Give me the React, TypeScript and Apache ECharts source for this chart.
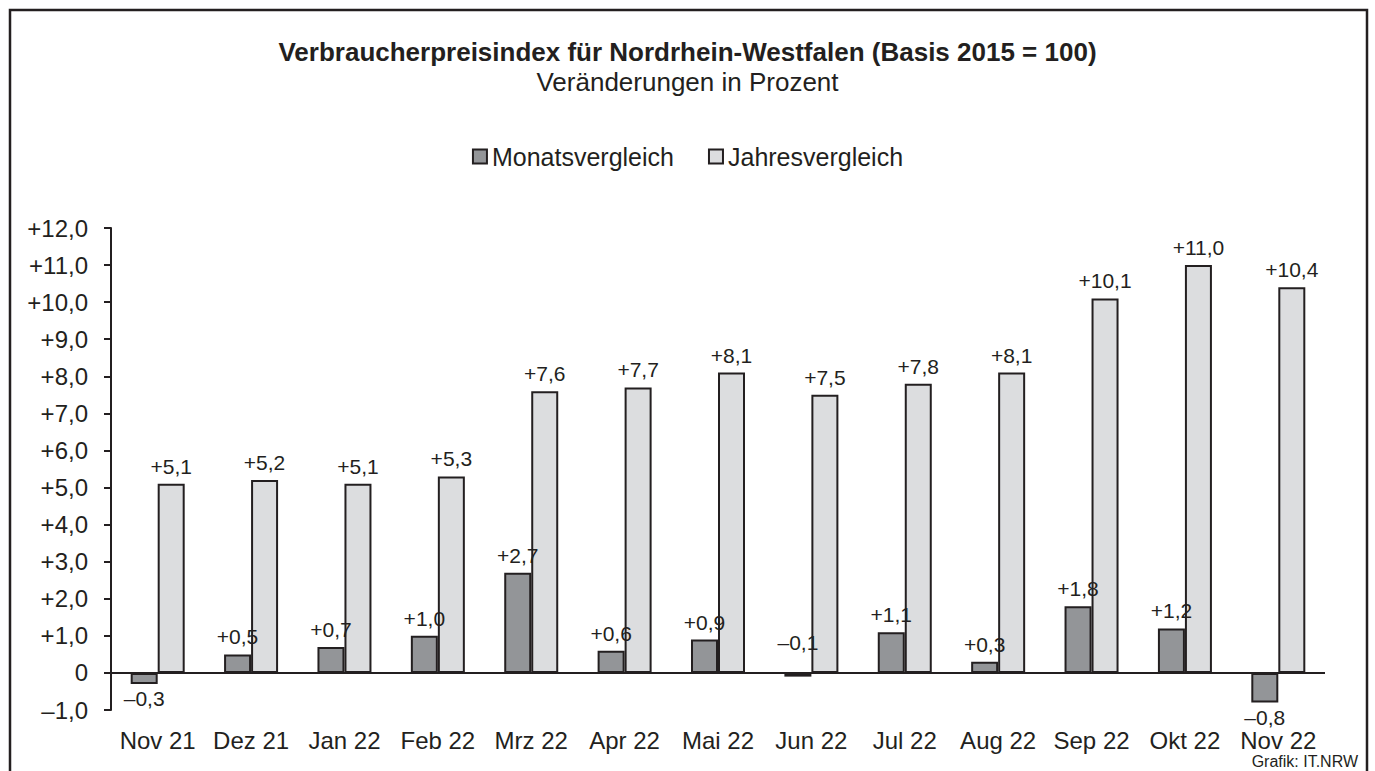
import React, { useEffect, useRef } from "react";
import * as echarts from "echarts";

const categories = ["Nov 21", "Dez 21", "Jan 22", "Feb 22", "Mrz 22", "Apr 22", "Mai 22", "Jun 22", "Jul 22", "Aug 22", "Sep 22", "Okt 22", "Nov 22"];
const monatsvergleich = [-0.3, 0.5, 0.7, 1.0, 2.7, 0.6, 0.9, -0.1, 1.1, 0.3, 1.8, 1.2, -0.8];
const jahresvergleich = [5.1, 5.2, 5.1, 5.3, 7.6, 7.7, 8.1, 7.5, 7.8, 8.1, 10.1, 11.0, 10.4];
const yMin = -1;
const yMax = 12;
const yInterval = 1;

const titleText = "Verbraucherpreisindex für Nordrhein-Westfalen (Basis 2015 = 100)";
const subtitleText = "Veränderungen in Prozent";
const sourceText = "Grafik: IT.NRW";

const FONT = "'Liberation Sans', Arial, Helvetica, sans-serif";

function fmt(v: number): string {
  if (v === 0) return "0";
  const s = Math.abs(v).toFixed(1).replace(".", ",");
  return (v > 0 ? "+" : "\u2013") + s;
}

export default function App() {
  const ref = useRef<HTMLDivElement>(null);
  useEffect(() => {
    if (!ref.current) return;
    const chart = echarts.init(ref.current, null, { renderer: "svg" });
    const monatsData = monatsvergleich.map((v) => {
      if (v < 0 && v > -0.2) {
        return { value: v, label: { position: "top", distance: 20 } };
      }
      if (v < 0) {
        return { value: v, label: { position: "bottom", distance: 4 } };
      }
      return { value: v };
    });
    chart.setOption({
      animation: false,
      backgroundColor: "#ffffff",
      title: [
        {
          text: titleText,
          left: "center",
          top: 34,
          textStyle: { fontFamily: FONT, fontSize: 26, fontWeight: "bold", color: "#231f20" },
        },
        {
          text: subtitleText,
          left: "center",
          top: 64,
          textStyle: { fontFamily: FONT, fontSize: 26, fontWeight: "normal", color: "#231f20" },
        },
      ],
      legend: {
        top: 139,
        left: "center",
        itemWidth: 14,
        itemHeight: 14,
        itemGap: 34,
        icon: "rect",
        textStyle: { fontFamily: FONT, fontSize: 25, color: "#231f20" },
        data: ["Monatsvergleich", "Jahresvergleich"],
      },
      grid: { left: 111, right: 50, top: 228, bottom: 61, containLabel: false },
      xAxis: {
        type: "category",
        data: categories,
        axisLine: { show: false, onZero: false },
        axisTick: { show: false },
        axisLabel: { fontFamily: FONT, fontSize: 24, color: "#231f20", margin: 18, interval: 0 },
      },
      yAxis: {
        type: "value",
        min: yMin,
        max: yMax,
        interval: yInterval,
        splitLine: { show: false },
        axisLine: { show: true, lineStyle: { color: "#231f20", width: 2 } },
        axisTick: { show: true, length: 7, lineStyle: { color: "#231f20", width: 2 } },
        axisLabel: {
          fontFamily: FONT,
          fontSize: 24,
          color: "#231f20",
          margin: 23,
          formatter: (v: number) => fmt(v),
        },
      },
      series: [
        {
          name: "Monatsvergleich",
          type: "bar",
          data: monatsData,
          barWidth: 27,
          barGap: "0%",
          itemStyle: { color: "#939598", borderColor: "#231f20", borderWidth: 2 },
          label: {
            show: true,
            position: "top",
            distance: 7,
            fontFamily: FONT,
            fontSize: 21,
            color: "#231f20",
            formatter: (p: any) => fmt(p.value),
          },
          markLine: {
            silent: true,
            symbol: "none",
            label: { show: false },
            lineStyle: { color: "#231f20", width: 2, type: "solid" },
            data: [{ yAxis: 0 }],
          },
        },
        {
          name: "Jahresvergleich",
          type: "bar",
          data: jahresvergleich,
          barWidth: 27,
          barGap: "0%",
          itemStyle: { color: "#dcdddf", borderColor: "#231f20", borderWidth: 2 },
          label: {
            show: true,
            position: "top",
            distance: 7,
            fontFamily: FONT,
            fontSize: 21,
            color: "#231f20",
            formatter: (p: any) => fmt(p.value),
          },
        },
      ],
      graphic: [
        {
          type: "polyline",
          silent: true,
          shape: { points: [[10, 800], [10, 10], [1367, 10], [1367, 800]] },
          style: { stroke: "#231f20", lineWidth: 2.5, fill: "none" },
        },
        {
          type: "text",
          right: 17,
          top: 753,
          style: { text: sourceText, font: `16px ${FONT}`, fill: "#231f20" },
        },
      ],
    });
    return () => chart.dispose();
  }, []);
  return (
    <div
      ref={ref}
      style={{ position: "absolute", left: 0, top: 0, width: 1375, height: 771, background: "#fff" }}
    />
  );
}
